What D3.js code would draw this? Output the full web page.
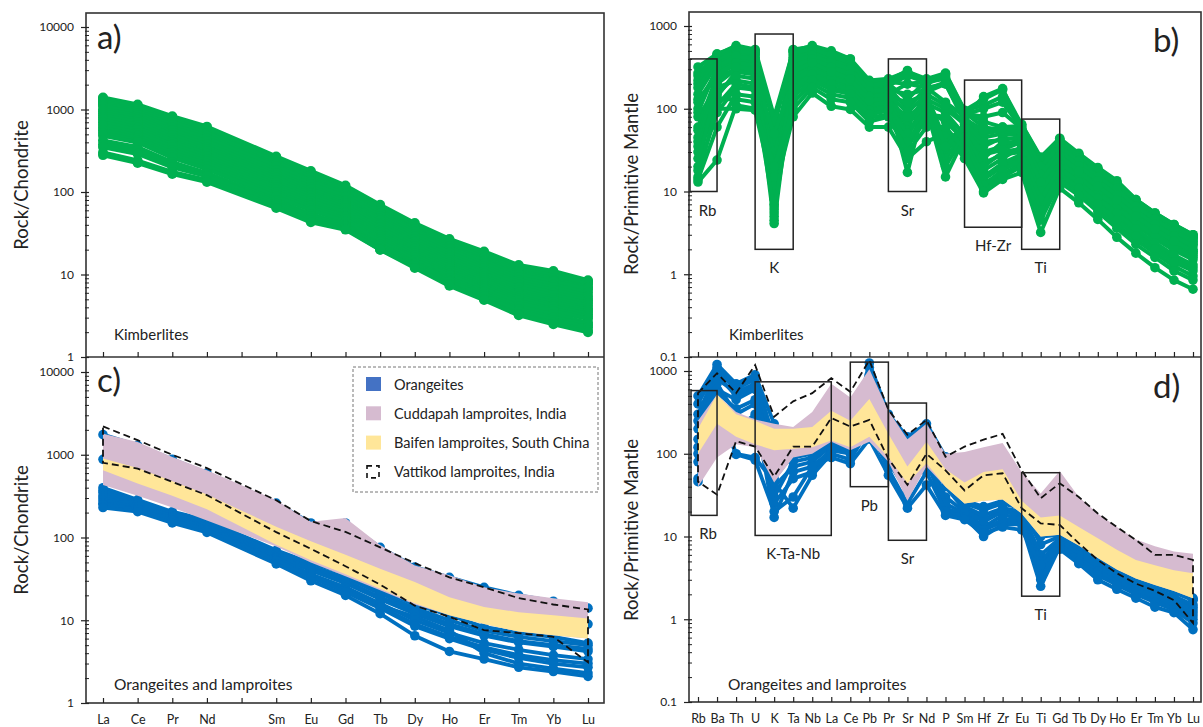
<!DOCTYPE html>
<html><head><meta charset="utf-8">
<script src="https://cdn.jsdelivr.net/npm/d3@7"></script>
<style>
body{margin:0;background:#fff;}
svg{display:block;font-family:Lato,"Open Sans",sans-serif;}
</style>
</head><body>
<svg id="fig" width="1203" height="727"></svg>
<script>
// ---- element lists and axis ticks ----
const reeLabels = ["La","Ce","Pr","Nd","Pm","Sm","Eu","Gd","Tb","Dy","Ho","Er","Tm","Yb","Lu"];
const reeMeasured = ["La","Ce","Pr","Nd","Sm","Eu","Gd","Tb","Dy","Ho","Er","Tm","Yb","Lu"];
const spiderLabels = ["Rb","Ba","Th","U","K","Ta","Nb","La","Ce","Pb","Pr","Sr","Nd","P","Sm","Hf","Zr","Eu","Ti","Gd","Tb","Dy","Ho","Er","Tm","Yb","Lu"];
const chondriteTicks = [1,10,100,1000,10000];
const mantleTicks = [0.1,1,10,100,1000];

// ---- a) kimberlites, chondrite-normalised REE ----
const kimberliteREE = [
  [1400,1150,830,620,270,180,120,70,42,27,19,13,11,8.5],
  [1350,1120,780,560,240,160,110,62,37,24,17,12,10,8.2],
  [1300,1100,800,600,255,170,113,66,40,26,18,12.5,10.5,8],
  [1250,1050,740,540,240,160,108,64,38,25,17,11.5,9.8,7.6],
  [1200,1000,700,520,230,150,105,60,36,24,16,11,9,7],
  [1150,950,650,480,215,140,100,58,35,22,15,10.5,8.6,6.9],
  [1100,900,600,450,205,135,95,55,33,21,14.5,10,8.2,6.6],
  [1000,850,560,410,185,125,88,51,31,20,13.5,9.2,7.5,6],
  [950,800,520,380,170,115,80,48,29,18.5,12.5,8.5,7,5.5],
  [900,750,490,350,160,108,76,45,27,17,11.8,8,6.5,5.1],
  [850,700,450,330,150,100,72,42,25,16,11,7.5,6,4.8],
  [800,650,420,310,140,95,68,40,23.5,15,10.2,7,5.6,4.5],
  [750,600,400,290,130,90,64,37,22,14,9.5,6.5,5.2,4.2],
  [700,560,375,270,122,84,60,34,20.5,13.2,9,6.1,4.9,3.9],
  [650,520,350,250,115,78,56,32,19,12.5,8.5,5.8,4.6,3.7],
  [600,480,320,235,108,72,52,30,18,11.7,8,5.4,4.3,3.5],
  [560,450,300,220,100,68,50,28,17,11,7.5,5.1,4.1,3.3],
  [520,420,280,205,94,64,47,26.5,16,10.3,7.1,4.8,3.8,3.1],
  [480,400,260,190,88,60,44,25,15,9.8,6.7,4.5,3.6,2.9],
  [420,350,230,170,80,54,40,23,14,9,6.2,4.1,3.3,2.6],
  [380,320,215,160,76,51,39,22,13.5,8.6,5.8,3.8,3.0,2.45],
  [350,290,200,155,72,48,38,21,13,8.2,5.5,3.6,2.8,2.3],
  [300,240,175,140,68,45,36,20,12.5,7.6,5,3.3,2.6,2.1],
  [280,225,165,132,64,43,35,20,12,7.3,4.9,3.2,2.5,2.0]
];

// ---- b) kimberlites, primitive-mantle-normalised ----
const kimberliteSpider = [
  [320,460,560,500,60,520,560,480,400,200,220,290,200,250,95,130,170,64,25,42,28,19,13,8,5.5,4,3.0],
  [270,450,580,520,80,500,580,500,400,220,230,280,230,270,96,110,140,65,26,44,29,19.5,13.5,8,5.5,4,3.0],
  [250,420,480,450,70,420,450,400,330,170,190,250,210,230,85,100,120,58,24,39,26,17,12,7.2,5,3.6,2.7],
  [220,440,540,500,4.5,500,540,460,380,210,215,260,220,265,92,70,60,62,24,43,28,18.5,12.8,7.8,5.4,3.9,2.9],
  [200,400,520,480,30,450,500,420,360,180,200,130,220,260,90,60,55,60,22,40,27,18,12.5,7.5,5.2,3.8,2.8],
  [180,380,500,460,5,480,520,440,350,190,210,200,210,240,88,80,90,58,21,41,27,17.5,12,7.5,5.2,3.8,2.8],
  [150,350,450,420,12,400,480,380,320,160,180,100,180,120,80,140,175,55,20,38,25,16,11,7,4.8,3.5,2.6],
  [130,240,300,280,6.5,200,280,220,185,100,110,65,115,90,48,22,28,30,9,21,14,9,6,3.9,2.7,1.95,1.5],
  [120,280,380,350,35,320,400,330,270,115,125,70,130,100,65,30,35,44,14,28,18.5,12,8,5,3.5,2.5,1.9],
  [100,300,400,380,8,350,420,340,280,150,160,60,160,200,70,45,50,48,18,34,22,15,10,6.3,4.3,3.1,2.3],
  [90,320,430,400,5.5,380,440,360,300,165,170,150,170,210,78,50,55,50,19,36,24,15.5,10.5,6.7,4.6,3.3,2.4],
  [80,180,220,200,40,250,320,260,210,140,150,200,180,200,75,55,60,50,20,35,23,15,10.5,6.6,4.6,3.3,2.5],
  [60,250,350,320,25,300,380,300,250,130,140,120,150,40,60,35,45,42,15,30,20,13,8.5,5.5,3.8,2.7,2.0],
  [55,130,130,120,9,120,200,150,135,78,85,35,75,55,36,11,16,22,5.2,14.5,10,6.3,4,2.6,1.8,1.25,0.95],
  [45,260,360,330,7,330,400,320,260,140,150,90,150,110,68,40,42,46,16,31,20.5,13.5,9,5.8,4,2.9,2.2],
  [40,200,300,280,4.1,260,340,270,220,120,130,17,140,30,55,25,40,38,12,26,17,11,7.5,4.8,3.3,2.4,1.8],
  [35,140,280,260,18,240,320,250,210,110,120,35,110,25,52,18,25,35,11,24,15.5,10,6.8,4.4,3.1,2.2,1.7],
  [30,100,100,96,10,80,155,107,98,60,60,25,40,50,25,9.6,14,17,3.2,11,7.3,4.6,2.8,1.8,1.2,0.85,0.66],
  [25,150,250,230,50,220,300,240,200,110,120,80,120,20,50,20,30,33,10,22,15,9.5,6.5,4.2,2.9,2.1,1.6],
  [20,200,320,300,9,280,360,280,230,125,135,45,135,35,58,28,32,40,13,27,17.5,11.5,7.8,5,3.5,2.5,1.9],
  [18,90,180,170,12,160,240,180,160,90,100,55,95,70,42,14,20,26,7,17.5,12,7.6,5,3.2,2.2,1.55,1.2],
  [15,110,200,180,15,180,260,200,170,95,105,50,100,15,45,15,22,28,8,19,13,8.2,5.5,3.5,2.4,1.7,1.3],
  [14,60,150,140,6,140,220,170,150,85,95,40,85,80,40,12,18,24,6,16,11,7,4.5,2.9,2.0,1.4,1.1],
  [13,24,110,100,20,100,180,130,120,70,80,30,60,60,32,10,15,20,4.5,13,9,5.7,3.6,2.3,1.6,1.1,0.85]
];

// ---- c) orangeites (REE) and lamproite fields ----
const orangeiteREE = [
  [1750,1300,880,600,260,150,150,76,44,33,25,20,17,14],
  [880,660,460,310,128,84,57,39,27,18,14,12,11,9],
  [400,285,205,162,70,49,37,23,15.5,11.5,8.3,7,6.3,5.3],
  [370,270,195,150,65,45,33,21,14,10,7.5,6.3,5.6,5],
  [350,265,190,148,63,42,30,19,13,9,6.8,5.6,5,4.5],
  [320,250,180,140,60,40,28,18,12,8.5,6.5,5.4,4.8,4.2],
  [300,240,175,135,58,34,24,15,11,7.5,4.0,3.0,2.6,2.3],
  [280,230,170,130,56,36,25,16,10,7,5.3,4.4,3.8,3.4],
  [260,220,162,125,53,34,23,14.5,9,6.3,4.7,3.8,3.3,3.0],
  [250,215,160,122,52,33,22,14,8.5,6,4.4,3.5,3,2.7],
  [230,205,150,115,48,30,20,12,6.5,4.2,3.4,2.7,2.4,2.1]
];
const cuddapahREEUpper = [1800,1430,940,650,282,155,172,81,46,35,25,21,18.5,16.5];
const cuddapahREELower = [430,320,230,160,78,50,34,23,15.5,11.5,9,7.3,6.6,6.0];
const baifenREEUpper   = [900,690,480,330,135,90,62,42,29,19,14.5,12.5,11.5,10.5];
const baifenREELower   = [650,450,320,220,82,53,36,24,16,11.5,9,7.3,6.6,6.0];
const vattikodREEUpper = [2200,1500,1000,690,282,158,117,76,49,33,25,18.5,15.5,13.5];
const vattikodREELower = [800,680,470,325,116,73,45,27,15,11,7.6,7.0,6.3,3.1];

// ---- d) orangeites (spider) and lamproite fields ----
const orangeiteSpider = [
  [500,1200,700,900,230,140,130,150,140,1250,300,160,230,92,27,23,27,25,11,11,7.5,5.2,4.1,3.2,2.7,2.2,1.8],
  [400,1100,650,850,150,130,125,145,135,1100,280,150,210,85,26,22,26,24,10,10.5,7.2,5,4,3.1,2.6,2.15,1.75],
  [300,1000,600,800,100,120,120,140,130,900,250,140,200,80,25,21,25,22,8,10,7,4.8,3.8,3,2.5,2.1,1.7],
  [250,900,500,650,60,90,100,125,115,600,150,80,140,50,22,16,21,19,5,9.2,6.2,4.3,3.3,2.6,2.2,1.8,1.4],
  [200,800,550,700,50,100,110,130,120,700,180,100,160,60,23,18,22,20,6,9.5,6.5,4.5,3.5,2.8,2.3,1.9,1.5],
  [150,700,300,400,40,70,80,125,115,400,100,50,100,30,20,13,18,17,5,8.5,5.8,4,3,2.4,2,1.6,1.2],
  [120,600,450,600,30,80,90,120,110,500,120,60,120,40,21,15,20,18,4,9,6,4.2,3.2,2.5,2.1,1.7,1.3],
  [100,550,350,450,25,50,60,115,105,350,80,35,80,22,18,12,15,15,3.5,8,5.3,3.6,2.8,2.1,1.75,1.4,1.0],
  [80,500,200,300,17,60,70,110,100,300,90,40,90,25,19,12,16,16,3,8,5.5,3.8,2.9,2.3,1.9,1.5,1.1],
  [50,450,100,90,45,22,55,100,85,200,65,25,60,20,17,10,14,14,2.5,7.5,5,3.4,2.6,2.0,1.6,1.3,0.9],
  [46,400,98,84,20,30,70,90,76,150,55,22,42,18,16,11,13,12,4.5,7,4.7,3.0,2.3,1.8,1.4,1.2,0.75]
];
const cuddapahSpiderUpper = [250,520,320,260,230,210,320,700,480,1050,330,150,230,100,105,120,135,60,33,62,30,19,13,9.2,7.6,6.6,6.2];
const cuddapahSpiderLower = [40,90,130,120,45,90,100,140,110,140,80,27,70,40,25,27,28,19,10,10.5,7.8,5.5,4.0,3.1,2.6,2.2,1.8];
const baifenSpiderUpper   = [200,520,300,250,200,200,210,330,250,460,175,70,140,65,45,60,65,27,17,18,13,9.5,6.9,5.2,4.5,3.9,3.6];
const baifenSpiderLower   = [100,230,160,130,110,115,120,145,120,160,90,44,77,40,25,27,28,19,10,10.5,7.8,5.5,4.0,3.1,2.6,2.2,1.8];
const vattikodSpiderUpper = [540,940,540,1180,280,430,540,820,560,1350,340,170,256,92,122,148,174,63,29,44,30,19,13,9.1,6.0,6.0,5.2];
const vattikodSpiderLower = [46,32,142,122,53,122,122,270,213,256,87,42,100,63,36,55,58,22,14.4,13.8,8.3,5.2,3.6,2.7,2.2,1.7,0.9];

// ---- highlighted anomalies: [label, first element, last element, low, high] ----
const kimberliteBoxes = [
  ["Rb","Rb","Ba",10,400],
  ["K","U","Ta",2,800],
  ["Sr","Pr","Nd",10,400],
  ["Hf-Zr","Sm","Eu",3.7,222],
  ["Ti","Eu","Gd",2,75]
];
const orangeiteBoxes = [
  ["Rb","Rb","Ba",18,580],
  ["K-Ta-Nb","U","La",10.3,740],
  ["Pb","Ce","Pr",40,1280],
  ["Sr","Pr","Nd",9,410],
  ["Ti","Eu","Gd",1.9,59]
];
const legendLabels = ["Orangeites","Cuddapah lamproites, India","Baifen lamproites, South China","Vattikod lamproites, India"];

// ---- styling ----
const GREEN = "#00B050", BLUE = "#0070C0", MAUVE = "#D6BBD0", YELLOW = "#FFE699", INK = "#222";

const svg = d3.select("#fig");

// scales
const xREE = d3.scalePoint().domain(reeLabels).range([103, 588]);
const xSp = d3.scalePoint().domain(spiderLabels).range([698, 1193]);
const yA = d3.scaleLog().domain([1, 10000]).range([357, 27]);
const yC = d3.scaleLog().domain([1, 10000]).range([703, 372]);
const yB = d3.scaleLog().domain([0.1, 1000]).range([357, 26]);
const yD = d3.scaleLog().domain([0.1, 1000]).range([702, 371]);

function minorValues(lo, hi) {
  const out = [];
  for (let e = Math.round(Math.log10(lo)); e < Math.round(Math.log10(hi)); e++)
    for (let m = 2; m <= 9; m++) out.push(+(m * Math.pow(10, e)).toPrecision(3));
  return out;
}

function yAxis(scale, x, ticks) {
  const g = svg.append("g").attr("transform", `translate(${x},0)`);
  g.call(d3.axisLeft(scale).tickValues(ticks).tickFormat(d => String(d)).tickSize(5).tickPadding(7));
  g.select(".domain").remove();
  g.selectAll(".tick line").attr("x1", 3).attr("stroke", INK).attr("stroke-width", 1.2);
  g.selectAll(".tick text").attr("fill", INK).style("font-size", "12px").style("font-family", "Lato, sans-serif");
  const m = svg.append("g").attr("transform", `translate(${x},0)`);
  m.call(d3.axisLeft(scale).tickValues(minorValues(ticks[0], ticks[ticks.length - 1])).tickFormat("").tickSize(1));
  m.select(".domain").remove();
  m.selectAll(".tick line").attr("x2", -1).attr("x1", 3).attr("stroke", INK).attr("stroke-width", 1);
}

function xAxis(scale, y, withLabels) {
  const g = svg.append("g").attr("transform", `translate(0,${y})`);
  g.call(d3.axisBottom(scale).tickSize(-5).tickPadding(12)
    .tickFormat(withLabels ? (d => d === "Pm" ? "" : d) : ""));
  g.select(".domain").remove();
  g.selectAll(".tick line").attr("stroke", INK).attr("stroke-width", 1.2);
  g.selectAll(".tick text").attr("fill", INK).style("font-size", "12.5px").style("font-family", "Lato, sans-serif");
}

function drawLines(rows, xs, names, y, color, width, r) {
  const line = d3.line();
  const g = svg.append("g");
  rows.forEach(vals => {
    const pts = names.map((n, i) => [xs(n), y(vals[i])]);
    g.append("path").attr("d", line(pts)).attr("fill", "none")
      .attr("stroke", color).attr("stroke-width", width).attr("stroke-linejoin", "round");
    g.selectAll(null).data(pts).join("circle")
      .attr("cx", d => d[0]).attr("cy", d => d[1]).attr("r", r).attr("fill", color);
  });
}

function drawField(upper, lower, xs, names, y, color) {
  const area = d3.area().x(d => xs(d.n)).y0(d => y(d.lo)).y1(d => y(d.hi));
  svg.append("path")
    .attr("d", area(names.map((n, i) => ({n, lo: lower[i], hi: upper[i]}))))
    .attr("fill", color);
}

function drawOutline(upper, lower, xs, names, y) {
  const pts = names.map((n, i) => [xs(n), y(upper[i])])
    .concat(names.map((n, i) => [xs(n), y(lower[i])]).reverse());
  svg.append("path").attr("d", d3.line()(pts) + "Z")
    .attr("fill", "none").attr("stroke", "#111").attr("stroke-width", 1.8)
    .attr("stroke-dasharray", "7,4");
}

function drawBoxes(boxes, xs, y, leftEdge) {
  const g = svg.append("g");
  boxes.forEach(([label, a, b, lo, hi]) => {
    const x0 = a === "Rb" ? leftEdge : xs(a);
    const x1 = xs(b);
    g.append("rect").attr("x", x0).attr("y", y(hi)).attr("width", x1 - x0).attr("height", y(lo) - y(hi))
      .attr("fill", "none").attr("stroke", INK).attr("stroke-width", 1.5);
    g.append("text").attr("x", (x0 + x1) / 2 + (label === "Rb" ? 4 : 0)).attr("y", y(lo) + 24)
      .attr("text-anchor", "middle").attr("fill", INK).style("font-size", "15px").text(label);
  });
}

function label(x, y, txt, size, anchor) {
  svg.append("text").attr("x", x).attr("y", y).attr("text-anchor", anchor || "start")
    .attr("fill", INK).style("font-size", size + "px").text(txt);
}

function yTitle(cx, cy, txt) {
  svg.append("text").attr("transform", `translate(${cx},${cy}) rotate(-90)`)
    .attr("text-anchor", "middle").attr("dominant-baseline", "central")
    .attr("fill", INK).style("font-size", "18.5px").text(txt);
}

// ---- panel a ----
drawLines(kimberliteREE, xREE, reeMeasured, yA, GREEN, 4.2, 5);
// ---- panel b ----
drawLines(kimberliteSpider, xSp, spiderLabels, yB, GREEN, 4, 4.8);
drawBoxes(kimberliteBoxes, xSp, yB, 690);
// ---- panel c ----
drawLines(orangeiteREE, xREE, reeMeasured, yC, BLUE, 3.8, 4.8);
drawField(cuddapahREEUpper, cuddapahREELower, xREE, reeMeasured, yC, MAUVE);
drawField(baifenREEUpper, baifenREELower, xREE, reeMeasured, yC, YELLOW);
drawOutline(vattikodREEUpper, vattikodREELower, xREE, reeMeasured, yC);
// ---- panel d ----
drawLines(orangeiteSpider, xSp, spiderLabels, yD, BLUE, 3.8, 4.8);
drawField(cuddapahSpiderUpper, cuddapahSpiderLower, xSp, spiderLabels, yD, MAUVE);
drawField(baifenSpiderUpper, baifenSpiderLower, xSp, spiderLabels, yD, YELLOW);
drawOutline(vattikodSpiderUpper, vattikodSpiderLower, xSp, spiderLabels, yD);
drawBoxes(orangeiteBoxes, xSp, yD, 691);

// ---- frames ----
const frameStyle = s => s.attr("fill", "none").attr("stroke", "#333").attr("stroke-width", 1.6);
svg.append("rect").attr("x", 86).attr("y", 13).attr("width", 518).attr("height", 690).call(frameStyle);
svg.append("line").attr("x1", 86).attr("x2", 604).attr("y1", 357).attr("y2", 357).attr("stroke", "#333").attr("stroke-width", 1.6);
svg.append("rect").attr("x", 689).attr("y", 12).attr("width", 512).attr("height", 690).call(frameStyle);
svg.append("line").attr("x1", 689).attr("x2", 1201).attr("y1", 357).attr("y2", 357).attr("stroke", "#333").attr("stroke-width", 1.6);

// ---- axes ----
yAxis(yA, 86, chondriteTicks);
yAxis(yC, 86, chondriteTicks);
yAxis(yB, 689, mantleTicks);
yAxis(yD, 689, mantleTicks);
xAxis(xREE, 357, false);
xAxis(xREE, 703, true);
xAxis(xSp, 357, false);
xAxis(xSp, 702, true);

yTitle(21, 185, "Rock/Chondrite");
yTitle(21, 530, "Rock/Chondrite");
yTitle(631, 184, "Rock/Primitive Mantle");
yTitle(631, 530, "Rock/Primitive Mantle");

// panel letters and captions
label(97, 49, "a)", 33);
label(1153, 52, "b)", 33);
label(97, 392, "c)", 33);
label(1153, 398, "d)", 33);
label(114, 340, "Kimberlites", 15);
label(729, 340, "Kimberlites", 15);
label(114, 690, "Orangeites and lamproites", 15.5);
label(728, 690, "Orangeites and lamproites", 15.5);

// ---- legend ----
const lg = svg.append("g");
lg.append("rect").attr("x", 353).attr("y", 367).attr("width", 245).attr("height", 125)
  .attr("fill", "#fff").attr("stroke", "#777").attr("stroke-width", 1).attr("stroke-dasharray", "3,2");
const swatchFill = ["#4472C4", MAUVE, YELLOW, null];
legendLabels.forEach((t, i) => {
  const cy = 384 + i * 29.3;
  if (swatchFill[i]) {
    lg.append("rect").attr("x", 366).attr("y", cy - 7).attr("width", 15).attr("height", 14).attr("fill", swatchFill[i]);
  } else {
    lg.append("rect").attr("x", 367).attr("y", cy - 6).attr("width", 12).attr("height", 12)
      .attr("fill", "none").attr("stroke", "#111").attr("stroke-width", 1.6).attr("stroke-dasharray", "5,4");
  }
  lg.append("text").attr("x", 394).attr("y", cy).attr("dominant-baseline", "central")
    .attr("fill", INK).style("font-size", "14.5px").text(t);
});
</script>
</body></html>
